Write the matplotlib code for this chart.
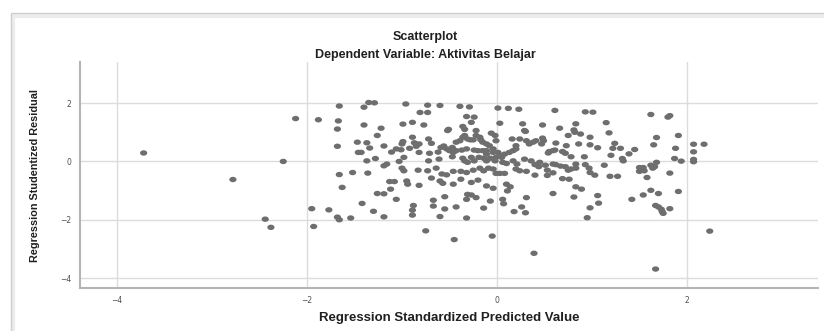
import numpy as np
import matplotlib
matplotlib.use('Agg')
import matplotlib.pyplot as plt
from matplotlib.path import Path
from matplotlib.patches import Rectangle

# values
pred = [-3.72, -2.78, -2.44, -2.38, -2.25,
        -2.12, -1.88, -1.66, -1.67, -1.68, -1.68, -1.40, -1.35, -1.29, -0.96, -0.73, -0.60, -0.39, -0.29,
        0.01, 0.12, 0.23, -0.81, -0.73, -1.40, -1.22, -0.99, -0.89, -0.77, -0.32, -0.24, -0.27, -0.36,
        -0.34, -0.51, -0.52, -0.22, 0.03, 0.27, 0.29, 0.30,
        -1.26, -0.89, -0.72, -0.69, -0.99, -1.00, -0.87, -0.82, -1.47, -1.37, -1.34, -1.19, -1.46, -1.43,
        -1.11, -1.06, -1.01, -0.92, -0.85, -0.82, -0.71, -0.62, -0.59, -0.56, -0.53, -0.50, -0.47, -0.46,
        -0.43, -0.43, -0.39, -0.36, -0.34, -0.31, -0.28, -0.25, -0.22, -0.18, -0.17, -0.15, -0.11, -0.08,
        -0.06, -0.02, -0.01, -0.04, -0.11, -0.15, -0.20, -0.24, -0.32, -0.37, -0.11, -0.04, 0.01, 0.03,
        0.08, 0.13, 0.17, 0.20, 0.20, 0.16, 0.24, 0.31, 0.34, 0.38, 0.41,
        -1.37, -1.28, -1.16, -1.19, -1.03, -0.98, -0.72, -0.61, -0.47, -0.36, -0.34, -0.31, -0.27, -0.24,
        -0.19, -0.14, -0.11, -0.07, -0.02, -0.01, 0.05, 0.06, 0.10, 0.17, 0.21, 0.29, 0.36, 0.40, 0.44,
        -1.66, -1.52, -1.36, -1.00, -0.98, -0.83, -0.73, -0.64, -0.58, -0.53, -0.46, -0.38, -0.32, -0.25,
        -0.18, -0.14, -0.09, -0.04, -0.01, 0.03, 0.08, 0.20, 0.24, 0.31, 0.40,
        -1.63, -1.13, -1.08, -0.95, -0.94, -0.82, -0.69, -0.60, -0.57, -0.46, -0.38, -0.27, -0.20, -0.11,
        -0.04, 0.10, 0.14, 0.31,
        -1.26, -1.19, -1.12, -1.06, -0.67, -0.67, -0.55, -0.32, -0.31, -0.27, -0.22, -0.07, 0.06, 0.07, 0.11,
        -1.95, -1.77, -1.42, -1.30, -1.19, -0.89, -0.88, -0.89, -0.60, -0.55, -0.43, -0.32, -0.14, 0.18,
        0.26, 0.30,
        -1.93, -1.68, -1.66, -1.54, -0.75, -0.45, -0.05, 0.39,
        0.61, 0.93, 1.01, 1.62, 1.80, 1.82, 0.48, 0.66, 0.83, 0.81, 0.82, 0.88, 1.15, 1.18, 0.98, 0.75,
        0.48, 0.49, 0.47, 0.62, 0.73, 0.86, 0.98, 1.06, 1.22, 1.24, 1.30, 1.39, 1.45, 1.68, 1.65, 1.91,
        1.88, 2.07, 2.18, 2.07, 0.55, 0.59, 0.61, 0.54, 0.69, 0.72, 0.78, 0.92, 1.20, 1.32, 1.33, 1.87,
        1.94, 2.07, 2.07, 0.45, 0.51, 0.59, 0.62, 0.67, 0.72, 0.75, 0.78, 0.83, 0.83, 0.93, 0.97, 0.98,
        1.03, 1.13, 1.19, 1.27, 1.50, 1.54, 1.55, 1.50, 1.62, 1.66, 1.68, 1.64, 1.58, 1.82, 0.53, 0.59,
        0.53, 0.69, 0.76, 0.83, 0.89, 0.59, 0.81, 1.06, 1.07, 0.98, 0.95, 1.42, 1.54, 1.62, 1.70, 1.91,
        1.67, 1.70, 1.73, 1.74, 1.75, 1.82, 2.24, 1.67]

resid = [0.29, -0.62, -1.98, -2.26, 0.00,
         1.47, 1.43, 1.90, 1.39, 1.11, 0.52, 1.86, 2.02, 2.01, 1.97, 1.93, 1.92, 1.89, 1.87,
         1.83, 1.82, 1.79, 1.68, 1.68, 1.25, 1.14, 1.28, 1.34, 1.25, 1.54, 1.52, 1.34, 1.20,
         1.10, 1.10, 1.06, 1.06, 1.31, 1.29, 1.06, 1.03,
         0.89, 0.83, 0.77, 0.62, 0.68, 0.60, 0.64, 0.60, 0.66, 0.64, 0.46, 0.53, 0.31, 0.31,
         0.32, 0.43, 0.40, 0.45, 0.52, 0.31, 0.28, 0.32, 0.48, 0.53, 0.43, 0.37, 0.48, 0.31,
         0.37, 0.66, 0.71, 0.83, 0.89, 0.77, 0.74, 0.74, 0.89, 0.83, 0.74, 0.66, 0.60, 0.54,
         0.97, 0.89, 0.71, 0.43, 0.37, 0.37, 0.37, 0.39, 0.43, 0.39, 0.25, 0.31, 0.31, 0.20,
         0.25, 0.31, 0.37, 0.43, 0.54, 0.77, 0.77, 0.71, 0.60, 0.66, 0.71,
         0.02, 0.10, -0.09, -0.15, 0.00, 0.14, 0.02, 0.08, 0.16, 0.11, 0.02, -0.03, 0.14, 0.02,
         0.14, 0.11, 0.02, 0.11, 0.02, 0.14, 0.14, -0.03, -0.07, 0.02, -0.09, 0.08, 0.02, -0.11, -0.18,
         -0.45, -0.38, -0.40, -0.23, -0.32, -0.30, -0.32, -0.23, -0.43, -0.46, -0.34, -0.34, -0.38, -0.30,
         -0.23, -0.32, -0.23, -0.26, -0.41, -0.41, -0.41, -0.26, -0.32, -0.34, -0.47,
         -0.89, -0.69, -0.69, -0.67, -0.78, -0.82, -0.57, -0.67, -0.75, -0.78, -0.61, -0.72, -0.64, -0.84,
         -0.92, -0.78, -0.87, -1.24,
         -1.10, -1.11, -0.95, -1.30, -1.33, -1.53, -1.21, -1.30, -1.13, -1.15, -1.24, -1.36, -1.30, -1.45, -1.01,
         -1.62, -1.66, -1.44, -1.71, -1.90, -1.67, -1.51, -1.84, -1.89, -1.63, -1.56, -1.94, -1.60, -1.72,
         -1.56, -1.76,
         -2.23, -1.91, -2.00, -1.94, -2.38, -2.68, -2.56, -3.15,
         1.75, 1.70, 1.69, 1.61, 1.52, 1.57, 1.25, 1.14, 1.29, 1.08, 1.00, 0.94, 1.33, 0.98, 0.83, 0.89,
         0.80, 0.71, 0.60, 0.63, 0.54, 0.60, 0.57, 0.47, 0.45, 0.62, 0.45, 0.26, 0.41, 0.82, 0.57, 0.89,
         0.45, 0.59, 0.59, 0.33, 0.34, 0.37, 0.39, 0.29, 0.34, 0.28, 0.16, 0.16, 0.21, 0.10, 0.02, 0.10,
         0.01, 0.07, -0.01, -0.03, -0.13, -0.09, -0.11, -0.16, -0.18, -0.30, -0.26, -0.23, -0.09, -0.11, -0.23, -0.38,
         -0.47, -0.13, -0.51, -0.51, -0.21, -0.21, -0.32, -0.34, -0.13, -0.18, -0.03, -0.23, -0.55, -0.40, -0.30, -0.39,
         -0.48, -0.59, -0.61, -0.87, -0.95, -1.10, -1.22, -1.17, -1.43, -1.59, -1.93, -1.30, -1.15, -0.99, -1.10, -1.03,
         -1.51, -1.56, -1.64, -1.72, -1.78, -1.62, -2.39, -3.69]

xticks = [-4, -2, 0, 2]
yticks = [-4, -2, 0, 2]

# slightly flattened dot like the SPSS export
t = np.linspace(0, 2 * np.pi, 40)
dot = Path(np.column_stack([np.cos(t), 0.75 * np.sin(t)]))

fig = plt.figure(figsize=(8.24, 3.31), dpi=100)
fig.patch.set_facecolor('white')

# chart frame with soft shadow on the left/top
fig.patches.append(Rectangle((13 / 824, -0.2), 1.0, (331 - 16) / 331 + 0.2, transform=fig.transFigure,
                             fill=False, edgecolor='#ececec', lw=3, zorder=0))
fig.patches.append(Rectangle((11 / 824, -0.2), 1.0, (331 - 13) / 331 + 0.2, transform=fig.transFigure,
                             fill=False, edgecolor='#cfcfcf', lw=1.0, zorder=0))

ax = fig.add_axes([80 / 824, 43 / 331, 738 / 824, 226 / 331])
ax.scatter(pred, resid, s=27, marker=dot, color='#6e6e6e', edgecolors='none', zorder=3)

ax.set_xlim(-4.39, 3.38)
ax.set_ylim(-4.34, 3.41)
ax.set_xticks(xticks)
ax.set_yticks(yticks)
ax.grid(True, color='#dcdcdc', lw=1.0)
ax.set_axisbelow(True)
for s in ['top', 'right']:
    ax.spines[s].set_visible(False)
for s in ['left', 'bottom']:
    ax.spines[s].set_color('#b4b4b4')
    ax.spines[s].set_linewidth(1.5)
ax.tick_params(length=0, labelsize=5.5, labelcolor='#505050', pad=6)

ax.set_xlabel('Regression Standardized Predicted Value', fontsize=9.5, fontweight='bold',
              family=['Liberation Sans', 'DejaVu Sans'], color='#202020', labelpad=5)
ax.set_ylabel('Regression Studentized Residual', fontsize=7.8, fontweight='bold',
              family=['Liberation Sans Narrow', 'Liberation Sans', 'DejaVu Sans'],
              color='#202020', labelpad=15)

fig.text(0.516, 1 - 37 / 331, 'Scatterplot', ha='center', va='center', fontsize=9, fontweight='bold',
         family=['Liberation Sans', 'DejaVu Sans'], color='#202020')
fig.text(0.516, 1 - 55 / 331, 'Dependent Variable: Aktivitas Belajar', ha='center', va='center', fontsize=9,
         fontweight='bold', family=['Liberation Sans', 'DejaVu Sans'], color='#202020')

fig.savefig('out.png', dpi=100)
